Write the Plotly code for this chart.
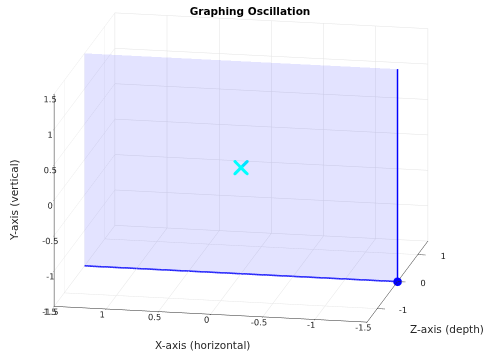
import plotly.graph_objects as go

# ---- data ----
title = "Graphing Oscillation"
x_ticks = [-1.5, -1, -0.5, 0, 0.5, 1, 1.5]
y_ticks = [-1.5, -1, -0.5, 0, 0.5, 1, 1.5]
z_ticks = [-1, 0, 1]

plane_x = [1.5, -1.5]          # horizontal extent of the translucent plane
plane_y = [-1.5, 1.5]          # vertical extent
plane_depth = 0

base_x = [1.5, -1.5]           # blue horizontal line
base_y = [-1.5, -1.5]
post_x = [-1.5, -1.5]          # blue vertical line
post_y = [-1.5, 1.5]
mass_x, mass_y, mass_z = [-1.5], [-1.5], [0]
center_x, center_y, center_z = [0], [0], [0]

BLUE = "#0000ff"
TXT = "#262626"

fig = go.Figure()

fig.add_trace(go.Mesh3d(
    x=[plane_x[0], plane_x[1], plane_x[1], plane_x[0]],
    y=[plane_depth] * 4,
    z=[plane_y[0], plane_y[0], plane_y[1], plane_y[1]],
    i=[0, 0], j=[1, 2], k=[2, 3],
    color=BLUE, opacity=0.11, flatshading=True,
    lighting=dict(ambient=1, diffuse=0, specular=0, fresnel=0),
    hoverinfo="skip", showscale=False))

fig.add_trace(go.Scatter3d(x=base_x, y=[plane_depth] * 2, z=base_y, mode="lines",
                           line=dict(color=BLUE, width=3), hoverinfo="skip"))
fig.add_trace(go.Scatter3d(x=post_x, y=[plane_depth] * 2, z=post_y, mode="lines",
                           line=dict(color=BLUE, width=3), hoverinfo="skip"))
fig.add_trace(go.Scatter3d(x=mass_x, y=mass_z, z=mass_y, mode="markers",
                           marker=dict(color=BLUE, size=5, symbol="circle"), hoverinfo="skip"))
fig.add_trace(go.Scatter3d(x=center_x, y=center_z, z=center_y, mode="markers",
                           marker=dict(color="#00ffff", size=3.5, symbol="x"), hoverinfo="skip"))

axis_common = dict(
    showbackground=False, gridcolor="#e3e3e3", gridwidth=1,
    showline=True, linecolor=TXT, linewidth=1,
    ticks="outside", ticklen=5, tickcolor=TXT, tickangle=0,
    tickfont=dict(family="DejaVu Sans", size=10, color=TXT),
    zeroline=False, showspikes=False,
    title=dict(text=""),
)
TF = dict(family="DejaVu Sans", size=10.5, color=TXT)

S = 1.95
fig.update_layout(
    width=500, height=352,
    margin=dict(l=0, r=0, t=0, b=0),
    paper_bgcolor="white",
    showlegend=False,
    title=dict(text="<b>" + title + "</b>", x=0.5, xanchor="center", y=0.978, yanchor="top",
               font=dict(family="DejaVu Sans", size=10.5, color="black")),
    scene=dict(
        domain=dict(x=[0, 0.964], y=[0.06, 0.99]),
        xaxis=dict(axis_common, range=[1.5, -1.5], tickvals=x_ticks, ticklen=8,
                   ticktext=[("%g" % v) for v in x_ticks]),
        yaxis=dict(axis_common, range=[-1.5, 1.5], tickvals=z_ticks, ticklen=3,
                   ticktext=[("%g" % v) for v in z_ticks]),
        zaxis=dict(axis_common, range=[-1.5, 1.5], tickvals=y_ticks,
                   ticktext=[("%g" % v) for v in y_ticks]),
        aspectmode="manual", aspectratio=dict(x=S, y=S, z=0.69 * S),
        camera=dict(projection=dict(type="orthographic"),
                    eye=dict(x=0.479, y=-2.466, z=0.673),
                    center=dict(x=0, y=0, z=0), up=dict(x=0, y=0, z=1)),
        annotations=[
            dict(x=0, y=-1.5, z=-1.5, text="X-axis (horizontal)", showarrow=False,
                 yshift=-31, xshift=-8, font=TF),
            dict(x=1.5, y=-1.5, z=0, text="Y-axis (vertical)", showarrow=False, textangle=-90,
                 xshift=-40, font=TF),
            dict(x=-1.5, y=0, z=-1.5, text="Z-axis (depth)", showarrow=False,
                 xshift=50, yshift=-48, font=TF),
        ],
    ),
)

fig.write_html("out.html")
